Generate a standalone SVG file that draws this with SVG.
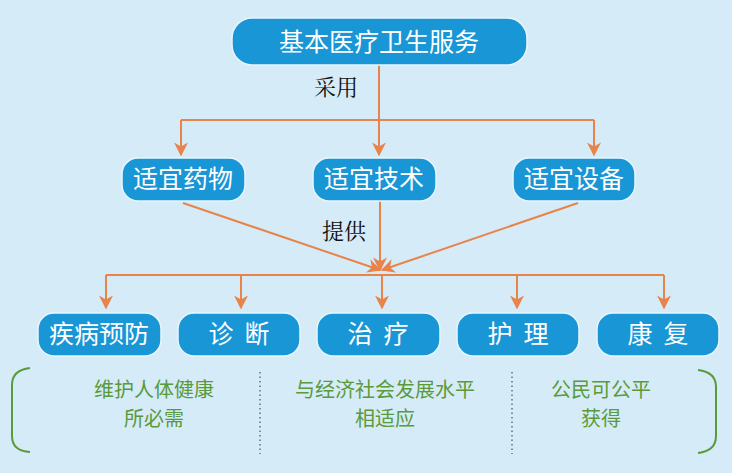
<svg xmlns="http://www.w3.org/2000/svg" width="732" height="473" viewBox="0 0 732 473">
<style>
.box{fill:#1996d6;stroke:#e8f6fd;stroke-width:1.5}
.bt{fill:#fff;font-family:"Noto Sans CJK SC",sans-serif;font-size:25px;text-anchor:middle}
.lb{fill:#111;font-family:"Noto Serif CJK SC","Noto Sans CJK SC",serif;font-size:22px}
.ln{stroke:#e8834a;stroke-width:2;fill:none}
.gt{fill:#5a9a3a;font-family:"Noto Sans CJK SC",sans-serif;font-size:20px;text-anchor:middle}
.br{stroke:#5a9a3a;stroke-width:2;fill:none}
.dt{stroke:#333;stroke-width:1;stroke-dasharray:1.5 3}
</style>
<defs><marker id="a" viewBox="0 0 10 10" refX="9" refY="5" markerWidth="7" markerHeight="7" orient="auto"><path d="M0,0L10,5L0,10L3,5z" fill="#e8834a"/></marker></defs>
<rect width="732" height="473" fill="#d5ebf8"/>
<g id="connectors">
<path class="ln" d="M379,65V120"/>
<path class="ln" d="M181,120H594"/>
<path class="ln" d="M181,120V155" marker-end="url(#a)"/>
<path class="ln" d="M379,120V155" marker-end="url(#a)"/>
<path class="ln" d="M594,120V155" marker-end="url(#a)"/>
<path class="ln" d="M183,203L380,270" marker-end="url(#a)"/>
<path class="ln" d="M380,201V270" marker-end="url(#a)"/>
<path class="ln" d="M578,203L382,270" marker-end="url(#a)"/>
<path class="ln" d="M106,275H664"/>
<path class="ln" d="M106,275V308" marker-end="url(#a)"/>
<path class="ln" d="M241,275V308" marker-end="url(#a)"/>
<path class="ln" d="M382,275V308" marker-end="url(#a)"/>
<path class="ln" d="M517,275V308" marker-end="url(#a)"/>
<path class="ln" d="M664,275V308" marker-end="url(#a)"/>
</g>
<text class="lb" x="314" y="95">采用</text>
<text class="lb" x="322" y="239">提供</text>
<g id="n0"><rect class="box" x="232" y="18" width="295" height="47" rx="20"/><text class="bt" x="379" y="51">基本医疗卫生服务</text></g>
<g id="n1"><rect class="box" x="122" y="158" width="123" height="43" rx="16"/><text class="bt" x="183" y="188">适宜药物</text></g>
<g id="n2"><rect class="box" x="313" y="158" width="123" height="43" rx="16"/><text class="bt" x="374" y="188">适宜技术</text></g>
<g id="n3"><rect class="box" x="513" y="158" width="122" height="43" rx="16"/><text class="bt" x="574" y="188">适宜设备</text></g>
<g id="n4"><rect class="box" x="38" y="313" width="123" height="43" rx="16"/><text class="bt" x="99" y="343">疾病预防</text></g>
<g id="n5"><rect class="box" x="178" y="313" width="122" height="43" rx="16"/><text class="bt" x="239" y="343" xml:space="preserve">诊  断</text></g>
<g id="n6"><rect class="box" x="317" y="313" width="123" height="43" rx="16"/><text class="bt" x="378" y="343" xml:space="preserve">治  疗</text></g>
<g id="n7"><rect class="box" x="457" y="313" width="122" height="43" rx="16"/><text class="bt" x="518" y="343" xml:space="preserve">护  理</text></g>
<g id="n8"><rect class="box" x="597" y="313" width="122" height="43" rx="16"/><text class="bt" x="658" y="343" xml:space="preserve">康  复</text></g>
<g id="notes">
<path class="br" d="M30,368Q12,370 12,385V436Q12,451 30,452"/>
<path class="br" d="M698,370Q716,372 716,387V436Q716,451 698,453"/>
<line class="dt" x1="260" y1="372" x2="260" y2="454"/>
<line class="dt" x1="512" y1="372" x2="512" y2="454"/>
<text class="gt" x="154" y="397">维护人体健康</text>
<text class="gt" x="154" y="426">所必需</text>
<text class="gt" x="385" y="397">与经济社会发展水平</text>
<text class="gt" x="385" y="426">相适应</text>
<text class="gt" x="601" y="397">公民可公平</text>
<text class="gt" x="601" y="426">获得</text>
</g>
</svg>
